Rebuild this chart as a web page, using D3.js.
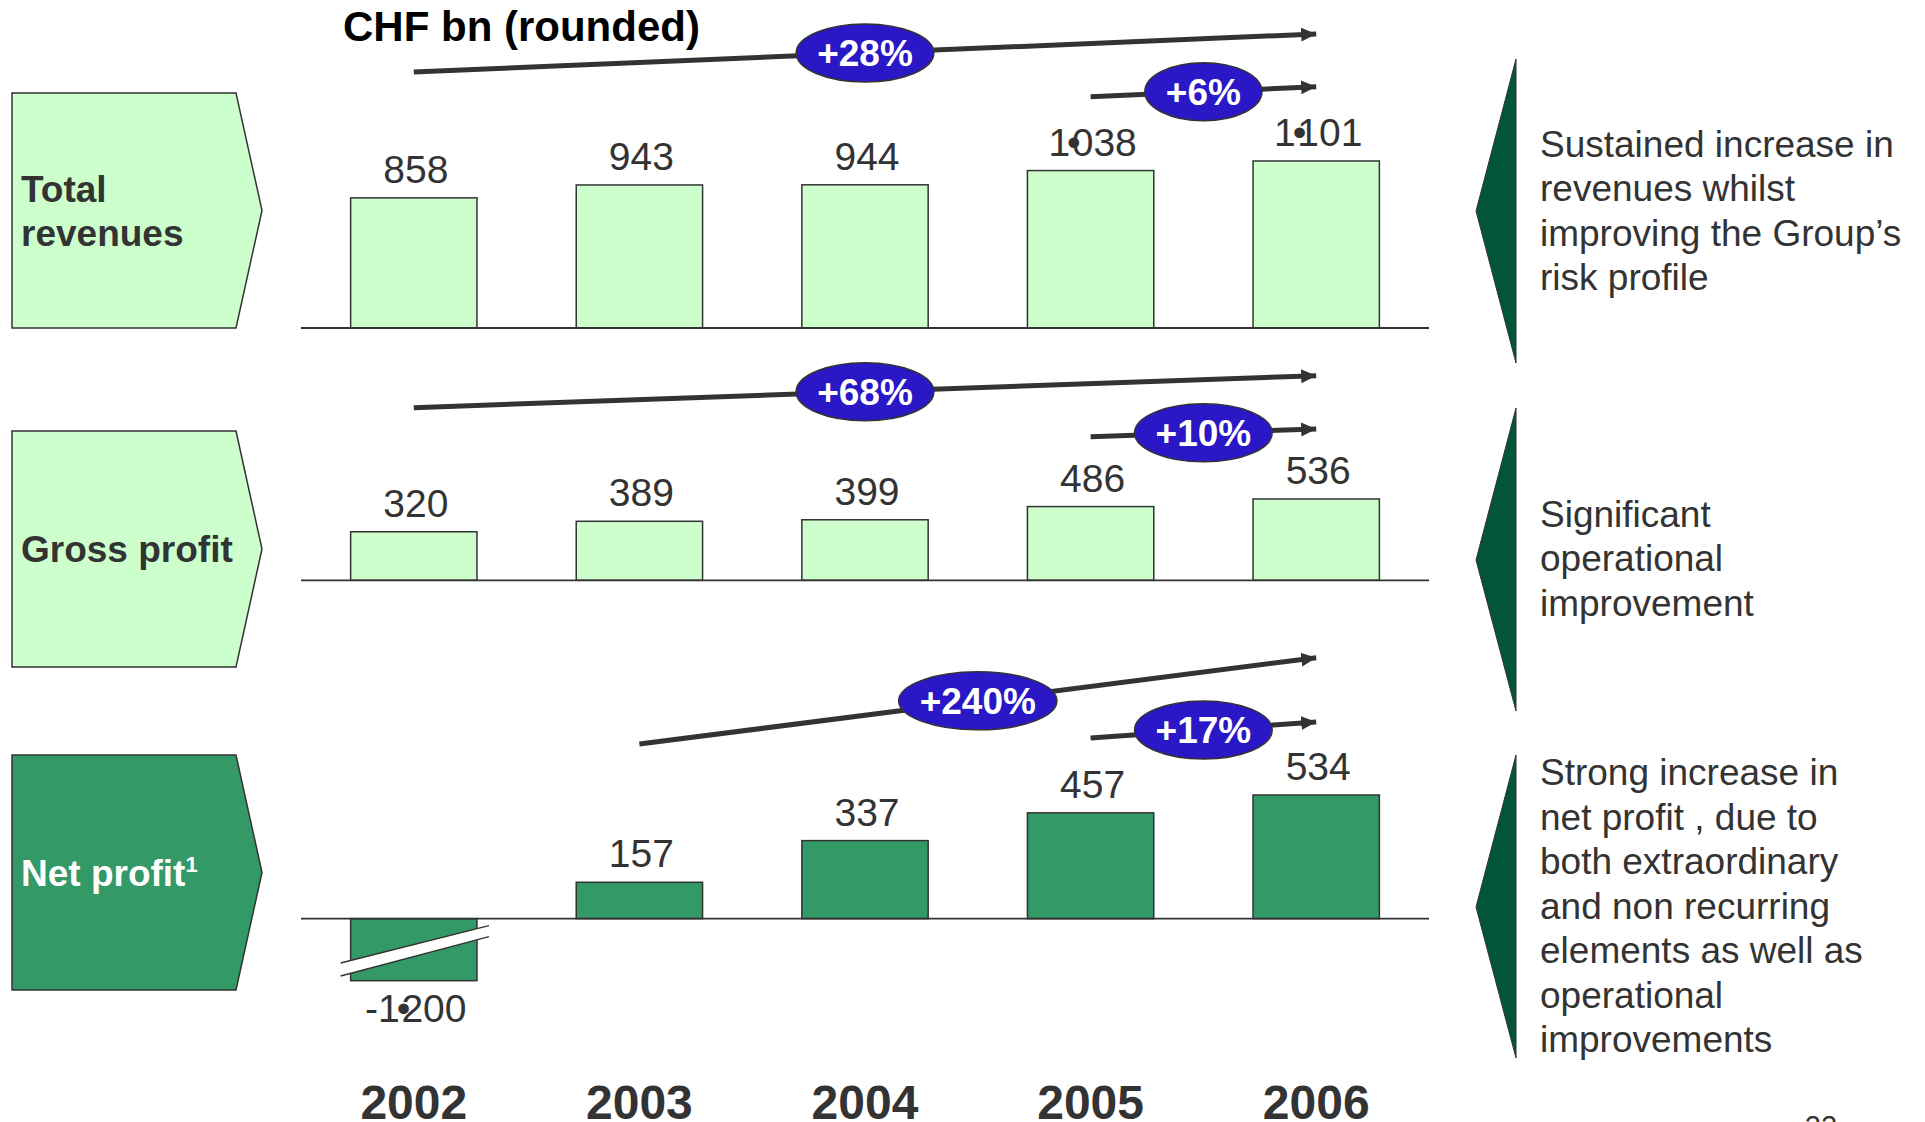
<!DOCTYPE html>
<html>
<head>
<meta charset="utf-8">
<script src="https://cdn.jsdelivr.net/npm/d3@7"></script>
<style>
  html, body { margin: 0; padding: 0; background: #fff; }
  svg { display: block; font-family: "Liberation Sans", Arial, sans-serif; }
</style>
</head>
<body>
<svg id="chart" width="1925" height="1122"></svg>
<script>
// data
const years = ["2002", "2003", "2004", "2005", "2006"];
const totalRevenues = [858, 943, 944, 1038, 1101];
const grossProfit = [320, 389, 399, 486, 536];
const netProfit = [-1200, 157, 337, 457, 534];

const rowTitles = [["Total", "revenues"], ["Gross profit"], ["Net profit"]];
const longGrowth = ["+28%", "+68%", "+240%"];
const longFrom = ["2002", "2002", "2003"];
const shortGrowth = ["+6%", "+10%", "+17%"];
const shortFrom = ["2005", "2005", "2005"];
const comments = [
    ["Sustained increase in", "revenues whilst", "improving the Group\u2019s", "risk profile"],
    ["Significant", "operational", "improvement"],
    ["Strong increase in", "net profit , due to", "both extraordinary", "and non recurring",
     "elements as well as", "operational", "improvements"],
];

const LIGHT = "#ccffcc", DARK = "#339966", INK = "#333333", BLUE = "#2a18c6", TRI = "#03553a";

// thousands shown with a bullet, as in the source slide
const fmt = d3.formatLocale({ decimal: ".", thousands: "\u2022", grouping: [3], currency: ["", ""], minus: "-" }).format(",d");

const svg = d3.select("#chart");

svg.append("defs").append("marker")
    .attr("id", "head")
    .attr("markerUnits", "userSpaceOnUse")
    .attr("markerWidth", 16).attr("markerHeight", 16)
    .attr("viewBox", "0 0 16 16")
    .attr("refX", 15).attr("refY", 8)
    .attr("orient", "auto")
    .append("path")
    .attr("d", "M0,1 L15,8 L0,15 Z")
    .attr("fill", INK);

const x = d3.scaleBand().domain(years).range([301, 1429]).paddingInner(0.44).paddingOuter(0.22);
const cx = (yr) => x(yr) + x.bandwidth() / 2;

// per-row layout
const rows = [
    {
        values: totalRevenues, fill: LIGHT, labelColor: INK,
        box: [93, 328],
        y: d3.scaleLinear().domain([0, 1101]).range([328, 161]),
        long: [72, 34], short: [96.7, 86.7],
        tri: [59, 211, 363], text: 156.7,
    },
    {
        values: grossProfit, fill: LIGHT, labelColor: INK,
        box: [431, 667],
        y: d3.scaleLinear().domain([0, 1101]).range([580.3, 413.3]),
        long: [407.7, 375.7], short: [436.7, 429],
        tri: [408, 560, 711], text: 526.7,
    },
    {
        values: netProfit, fill: DARK, labelColor: "#ffffff",
        box: [755, 990],
        y: d3.scaleLinear().domain([-268, 534]).range([980.7, 795]).clamp(true),
        long: [744, 657.7], short: [738, 722],
        tri: [755, 907, 1058], text: 785,
    },
];

// title
svg.append("text")
    .attr("x", 343).attr("y", 41)
    .attr("font-size", 42).attr("font-weight", "bold").attr("fill", "#000")
    .text("CHF bn (rounded)");

rows.forEach((row, r) => {
    const g = svg.append("g").attr("class", `row-${r}`);

    // left arrow-shaped label box
    const [t, b] = row.box;
    const mid = (t + b) / 2;
    g.append("path")
        .attr("d", d3.line()([[12, t], [236, t], [262, mid], [236, b], [12, b]]) + "Z")
        .attr("fill", row.fill).attr("stroke", INK).attr("stroke-width", 1.5);

    const title = g.append("text")
        .attr("x", 21)
        .attr("font-size", 37).attr("font-weight", "bold").attr("fill", row.labelColor);
    const lines = rowTitles[r];
    const lh = 44;
    const firstBase = mid + 13 - (lines.length - 1) * lh / 2;
    lines.forEach((ln, i) => {
        title.append("tspan").attr("x", 21).attr("y", firstBase + i * lh).text(ln);
    });
    if (r === 2) {
        title.append("tspan").attr("font-size", 22).attr("dy", -14).text("1");
    }

    // bars
    const y0 = row.y(0);
    g.selectAll("rect.bar")
        .data(row.values)
        .join("rect")
        .attr("class", "bar")
        .attr("x", (d, i) => x(years[i]))
        .attr("width", x.bandwidth())
        .attr("y", (d) => Math.min(row.y(d), y0))
        .attr("height", (d) => Math.abs(row.y(d) - y0))
        .attr("fill", row.fill).attr("stroke", INK).attr("stroke-width", 1.5);

    // axis break on clipped negative bars
    row.values.forEach((d, i) => {
        if (d >= row.y.domain()[0]) return;
        const xl = x(years[i]) - 10, xr = x(years[i]) + x.bandwidth() + 12;
        const yb = row.y(d);
        const l1 = [[xl, yb - 17.7], [xr, y0 + 7]];
        const l2 = [[xl, yb - 4.7], [xr, y0 + 18]];
        g.append("path")
            .attr("d", d3.line()([l1[0], l1[1], l2[1], l2[0]]) + "Z")
            .attr("fill", "#fff");
        [l1, l2].forEach((l) => {
            g.append("path").attr("d", d3.line()(l))
                .attr("stroke", INK).attr("stroke-width", 1.5).attr("fill", "none");
        });
    });

    // baseline
    g.append("line")
        .attr("x1", x.range()[0]).attr("x2", x.range()[1])
        .attr("y1", y0).attr("y2", y0)
        .attr("stroke", INK).attr("stroke-width", 1.8);

    // value labels
    row.values.forEach((d, i) => {
        const ty = d >= 0 ? row.y(d) - 15 : row.y(d) + 41;
        const parts = fmt(d).split("\u2022");
        const txt = g.append("text")
            .attr("x", cx(years[i]) + 2).attr("y", ty)
            .attr("text-anchor", "middle")
            .attr("font-size", 39).attr("fill", INK);
        txt.append("tspan").text(parts[0]);
        if (parts.length > 1) {
            txt.append("tspan").attr("dx", -3).text("\u2022");
            txt.append("tspan").attr("dx", -9).text(parts[1]);
        }
    });

    // growth arrows
    const arrows = [
        { from: longFrom[r], ys: row.long, label: longGrowth[r] },
        { from: shortFrom[r], ys: row.short, label: shortGrowth[r] },
    ];
    arrows.forEach((a) => {
        const x1 = cx(a.from), x2 = cx(years[years.length - 1]);
        g.append("line")
            .attr("x1", x1).attr("y1", a.ys[0])
            .attr("x2", x2).attr("y2", a.ys[1])
            .attr("stroke", INK).attr("stroke-width", 5)
            .attr("marker-end", "url(#head)");
        const mx = (x1 + x2) / 2, my = (a.ys[0] + a.ys[1]) / 2;
        const ell = g.append("ellipse")
            .attr("cx", mx).attr("cy", my).attr("ry", 29)
            .attr("fill", BLUE).attr("stroke", INK).attr("stroke-width", 1.5);
        const lbl = g.append("text")
            .attr("x", mx).attr("y", my).attr("dy", "0.35em")
            .attr("text-anchor", "middle")
            .attr("font-size", 37).attr("font-weight", "bold").attr("fill", "#fff")
            .text(a.label);
        const w = lbl.node().getComputedTextLength();
        ell.attr("rx", Math.max(54, w / 2 + 21));
    });

    // right-hand commentary
    const [tt, ta, tb] = row.tri;
    g.append("path")
        .attr("d", d3.line()([[1516, tt], [1476, ta], [1516, tb]]) + "Z")
        .attr("fill", TRI).attr("stroke", INK).attr("stroke-width", 1);

    const note = g.append("text")
        .attr("font-size", 37).attr("fill", INK);
    comments[r].forEach((ln, i) => {
        note.append("tspan").attr("x", 1540).attr("y", row.text + i * 44.5).text(ln);
    });
});

// year labels
svg.append("g").selectAll("text")
    .data(years)
    .join("text")
    .attr("x", (d) => cx(d)).attr("y", 1119)
    .attr("text-anchor", "middle")
    .attr("font-size", 48).attr("font-weight", "bold").attr("fill", INK)
    .text((d) => d);

// page number (mostly off the bottom edge)
svg.append("text")
    .attr("x", 1821).attr("y", 1136)
    .attr("text-anchor", "middle")
    .attr("font-size", 29).attr("fill", INK)
    .text("22");
</script>
</body>
</html>
